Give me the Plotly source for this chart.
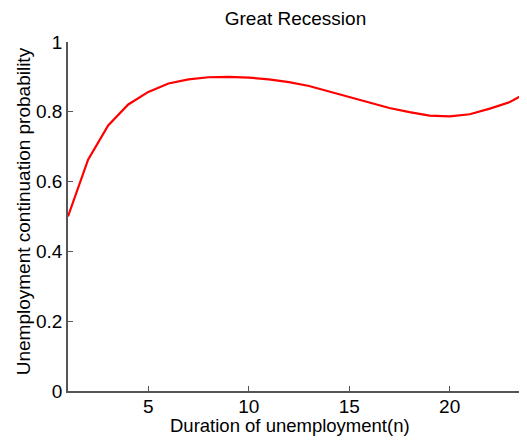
import plotly.graph_objects as go

duration = list(range(1, 25))
probability = [0.500, 0.663, 0.761, 0.821, 0.857, 0.881, 0.893, 0.899, 0.900, 0.898,
               0.893, 0.885, 0.874, 0.858, 0.842, 0.826, 0.811, 0.799, 0.789, 0.787,
               0.793, 0.809, 0.828, 0.860]
x_ticks = [5, 10, 15, 20]
y_ticks = [0, 0.2, 0.4, 0.6, 0.8, 1]
y_tick_labels = ["0", "0.2", "0.4", "0.6", "0.8", "1"]

FONT = "Liberation Sans, Arial, sans-serif"
AX = "#555555"
W, H = 519, 433          # page body adds an 8px offset
L, T, B = 60, 34, 50

fig = go.Figure(go.Scatter(x=duration, y=probability, mode="lines",
                           line=dict(color="#ff0000", width=2.2), showlegend=False))

fig.update_layout(
    width=W, height=H,
    margin=dict(l=L, r=0, t=T, b=B, pad=0),
    paper_bgcolor="white", plot_bgcolor="white",
    font=dict(family=FONT, size=19, color="black"),
    title=dict(text="Great Recession", x=0.4956, xanchor="center", xref="paper",
               y=1 - 10 / H, yanchor="middle", font=dict(size=19, color="black")),
    xaxis=dict(range=[1, 23.85], tickvals=x_ticks, ticks="inside", ticklen=5,
               tickcolor=AX, tickwidth=1, showline=True, linecolor=AX, linewidth=2,
               showgrid=False, zeroline=False, mirror=False, automargin=False,
               tickfont=dict(size=19), ticklabelstandoff=-3),
    yaxis=dict(range=[0, 1], tickvals=y_ticks, ticktext=y_tick_labels, ticks="inside",
               ticklen=5, tickcolor=AX, tickwidth=1, showline=True, linecolor=AX,
               linewidth=1.5, showgrid=False, zeroline=False, mirror=False,
               automargin=False, tickfont=dict(size=19)),
    annotations=[
        dict(text="Duration of unemployment(n)", xref="paper", yref="paper",
             x=0.4837, y=0, xanchor="center", yanchor="middle", yshift=-34,
             showarrow=False, font=dict(size=18.5)),
        dict(text="Unemployment continuation probability", xref="paper", yref="paper",
             x=0, y=0.515, xanchor="center", yanchor="middle", xshift=-45,
             textangle=-90, showarrow=False, font=dict(size=19)),
    ],
)

fig.write_html("out.html")
